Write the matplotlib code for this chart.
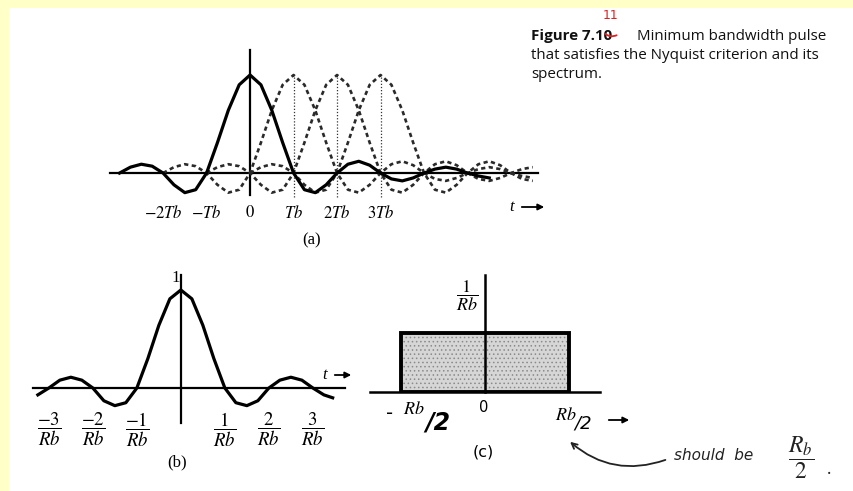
import matplotlib
matplotlib.use("Agg")
import matplotlib.pyplot as plt
from matplotlib.patches import Rectangle
import numpy as np

plt.rcParams['mathtext.fontset'] = 'stix'
plt.rcParams['font.family'] = ['Liberation Serif', 'DejaVu Sans']
plt.rcParams['hatch.linewidth'] = 0.6

W, H = 854, 491

# (a) pulse p(t), t in units of Tb
pulse_t = [-3.0, -2.75, -2.5, -2.25, -2.0, -1.75, -1.5, -1.25, -1.0, -0.75, -0.5, -0.25,
           0.0, 0.25, 0.5, 0.75, 1.0, 1.25, 1.5, 1.75, 2.0, 2.25, 2.5, 2.75, 3.0,
           3.25, 3.5, 3.75, 4.0, 4.25, 4.5, 4.75, 5.0, 5.25, 5.5]
pulse_v = [0.0, 0.06, 0.09, 0.07, 0.0, -0.12, -0.20, -0.17, 0.0, 0.31, 0.64, 0.90,
           1.0, 0.90, 0.64, 0.31, 0.0, -0.17, -0.20, -0.12, 0.0, 0.09, 0.12, 0.08, 0.0,
           -0.06, -0.08, -0.05, 0.0, 0.04, 0.06, 0.04, 0.0, -0.03, -0.05]
shifts = [1, 2, 3]
a_ticks = [-2, -1, 0, 1, 2, 3]
a_labels = [r'$-2Tb$', r'$-Tb$', r'$0$', r'$Tb$', r'$2Tb$', r'$3Tb$']

# (b) same pulse against t in units of 1/Rb
b_t = [-3.25, -3.0, -2.75, -2.5, -2.25, -2.0, -1.75, -1.5, -1.25, -1.0, -0.75, -0.5, -0.25,
       0.0, 0.25, 0.5, 0.75, 1.0, 1.25, 1.5, 1.75, 2.0, 2.25, 2.5, 2.75, 3.0, 3.25, 3.45]
b_v = [-0.07, 0.0, 0.08, 0.11, 0.08, 0.0, -0.13, -0.18, -0.15, 0.0, 0.30, 0.64, 0.91,
       1.0, 0.91, 0.64, 0.30, 0.0, -0.15, -0.18, -0.13, 0.0, 0.08, 0.11, 0.08, 0.0, -0.07, -0.10]
b_ticks = [-3, -2, -1, 1, 2, 3]
b_labels = [r'$\dfrac{-3}{Rb}$', r'$\dfrac{-2}{Rb}$', r'$\dfrac{-1}{Rb}$',
            r'$\dfrac{1}{Rb}$', r'$\dfrac{2}{Rb}$', r'$\dfrac{3}{Rb}$']

# (c) spectrum: flat 1/Rb between -Rb/2 and Rb/2
spec_center = 0.0
spec_width = 1.0
spec_height = 1.0

fig = plt.figure(figsize=(W / 100, H / 100), dpi=100)
fig.patch.set_facecolor('white')


def frame(ax, lw=1.6):
    ax.set_facecolor('none')
    for s in ['top', 'right']:
        ax.spines[s].set_visible(False)
    ax.spines['left'].set_position(('data', 0))
    ax.spines['bottom'].set_position(('data', 0))
    ax.spines['left'].set_linewidth(lw)
    ax.spines['bottom'].set_linewidth(lw)
    ax.set_yticks([])
    ax.tick_params(axis='x', length=0)


# ---- (a)
ax_a = fig.add_axes([110 / W, 1 - 195 / H, 428 / W, 145 / H])
frame(ax_a)
ax_a.set_xlim(-3.22, 6.62)
ax_a.set_ylim(-0.224, 1.255)
ax_a.plot(pulse_t, pulse_v, color='k', lw=2.3, solid_joinstyle='round', clip_on=False, zorder=4)
for s in shifts:
    t = np.array(pulse_t) + s
    keep = (t >= -2.1) & (t <= 6.5)
    ax_a.plot(t[keep], np.array(pulse_v)[keep], color='#2a2a2a', lw=1.9,
              linestyle=(0, (1.6, 1.3)), clip_on=False, zorder=3)
ax_a.vlines(shifts, -0.245, 1.0, colors='#333333', linestyles=(0, (1, 1.5)), lw=0.9, clip_on=False)
ax_a.set_xticks(a_ticks, a_labels, fontsize=12)
ax_a.tick_params(axis='x', pad=23)

# ---- (b)
ax_b = fig.add_axes([33 / W, 1 - 423 / H, 312 / W, 148 / H])
frame(ax_b)
ax_b.set_xlim(-3.36, 3.73)
ax_b.set_ylim(-0.357, 1.153)
ax_b.plot(b_t, b_v, color='k', lw=2.3, solid_joinstyle='round', clip_on=False)
ax_b.set_xticks(b_ticks, b_labels, fontsize=13.5)
ax_b.tick_params(axis='x', pad=16)

# ---- (c)
ax_c = fig.add_axes([370 / W, 1 - 392 / H, 230 / W, 117 / H])
frame(ax_c, lw=1.8)
ax_c.set_xlim(-0.685, 0.685)
ax_c.set_ylim(0, 1.983)
ax_c.set_xticks([])
ax_c.bar(spec_center, spec_height, width=spec_width, color='#d6d6d6', hatch='....',
         edgecolor='#8a8a8a', lw=0, zorder=1)
ax_c.bar(spec_center, spec_height, width=spec_width, fill=False, edgecolor='k', lw=2.8, zorder=2)

# ---- overlay: frame, captions, hand notes
ov = fig.add_axes([0, 0, 1, 1], zorder=10)
ov.set_xlim(0, W)
ov.set_ylim(H, 0)
ov.axis('off')
ov.patch.set_alpha(0)
ov.add_patch(Rectangle((0, 0), W, 8, color='#ffffc8', lw=0))
ov.add_patch(Rectangle((0, 0), 9, H, color='#ffffc8', lw=0))

cap = dict(family='Open Sans', fontsize=10.9, va='center', color='#111111')
ov.text(531, 36, 'Figure 7.10', weight='bold', **cap)
ov.text(637, 36, 'Minimum bandwidth pulse', **cap)
ov.text(531, 55, 'that satisfies the Nyquist criterion and its', **cap)
ov.text(531, 74, 'spectrum.', **cap)
ov.text(611, 15, '11', color='#e02020', fontsize=9, ha='center', va='center', family='DejaVu Sans')
ov.annotate('', xy=(619, 34), xytext=(603, 32),
            arrowprops=dict(arrowstyle='-', color='#e02020', lw=1.3, connectionstyle='arc3,rad=0.4'))

arr = dict(arrowstyle='-|>', color='k', lw=1.3, mutation_scale=9)
ov.text(512, 207, 't', style='italic', fontsize=12, ha='center', va='center')
ov.annotate('', xy=(547, 207), xytext=(519, 207), arrowprops=arr)
ov.text(312, 240, '(a)', fontsize=12, ha='center', va='center')

ov.text(176, 278, '1', fontsize=12, ha='center', va='center')
ov.text(325, 375, 't', style='italic', fontsize=12, ha='center', va='center')
ov.annotate('', xy=(354, 375), xytext=(332, 375), arrowprops=arr)
ov.text(177, 462, '(b)', fontsize=12, ha='center', va='center')

ov.text(467, 296, r'$\dfrac{1}{Rb}$', fontsize=13, ha='center', va='center')
ov.text(484, 407, '0', fontsize=10.5, ha='center', va='center', family='DejaVu Sans')
ov.text(390, 414, '-', fontsize=14, ha='center', va='center', family='DejaVu Sans')
ov.text(414, 410, r'$Rb$', fontsize=13, ha='center', va='center')
ov.text(438, 423, '/2', fontsize=17, ha='center', va='center', family='DejaVu Sans',
        style='italic', weight='bold')
ov.text(566, 416, r'$Rb$', fontsize=13, ha='center', va='center')
ov.text(583, 424, '/2', fontsize=13, ha='center', va='center', family='DejaVu Sans', style='italic')
ov.annotate('', xy=(632, 420), xytext=(606, 420), arrowprops=arr)
ov.text(483, 452, '(c)', fontsize=11.5, ha='center', va='center', family='DejaVu Sans')

ov.annotate('', xy=(568, 440), xytext=(668, 459),
            arrowprops=dict(arrowstyle='->', color='#222222', lw=1.3, connectionstyle='arc3,rad=-0.3'))
ov.text(674, 456, 'should  be', fontsize=11, style='italic', ha='left', va='center',
        family='DejaVu Sans', color='#222222')
ov.text(801, 458, r'$\dfrac{R_b}{2}$', fontsize=17, ha='center', va='center', color='#222222')
ov.text(829, 470, '.', fontsize=13, ha='center', va='center', color='#222222')

fig.savefig('out.png', dpi=100)
